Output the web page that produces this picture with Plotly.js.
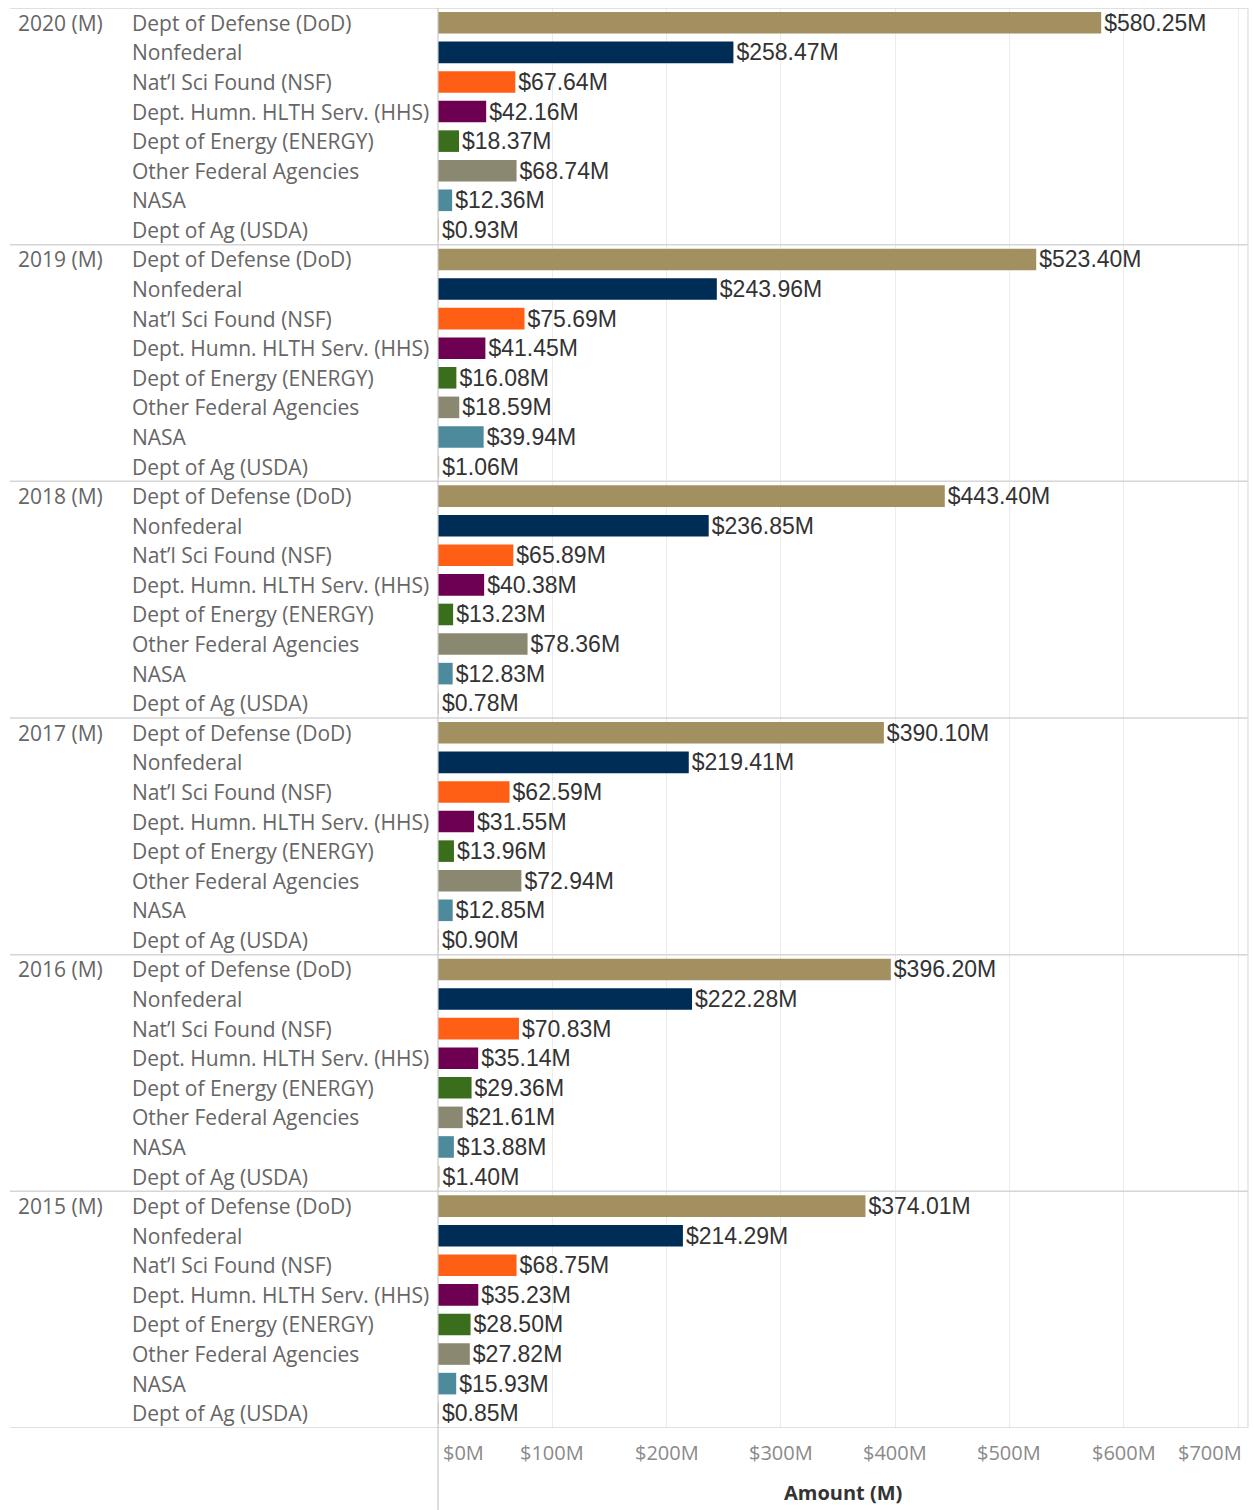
<!DOCTYPE html>
<html>
<head>
<meta charset="utf-8">
<script src="https://cdn.plot.ly/plotly-3.0.1.min.js"></script>
<style>html,body{margin:0;padding:0;background:#fff;}#chart{width:1254px;height:1510px;}</style>
</head>
<body>
<div id="chart"></div>
<script>
// ---- data ----
var years = ["2020", "2019", "2018", "2017", "2016", "2015"];
var categories = ["Dept of Defense (DoD)", "Nonfederal", "Nat\u2019l Sci Found (NSF)", "Dept. Humn. HLTH Serv. (HHS)", "Dept of Energy (ENERGY)", "Other Federal Agencies", "NASA", "Dept of Ag (USDA)"];
var v2020 = [580.25, 258.47, 67.64, 42.16, 18.37, 68.74, 12.36, 0.93];
var v2019 = [523.40, 243.96, 75.69, 41.45, 16.08, 18.59, 39.94, 1.06];
var v2018 = [443.40, 236.85, 65.89, 40.38, 13.23, 78.36, 12.83, 0.78];
var v2017 = [390.10, 219.41, 62.59, 31.55, 13.96, 72.94, 12.85, 0.90];
var v2016 = [396.20, 222.28, 70.83, 35.14, 29.36, 21.61, 13.88, 1.40];
var v2015 = [374.01, 214.29, 68.75, 35.23, 28.50, 27.82, 15.93, 0.85];
var tickValues = [0, 100, 200, 300, 400, 500, 600, 700];
var tickLabels = ["$0M", "$100M", "$200M", "$300M", "$400M", "$500M", "$600M", "$700M"];
var colors = ["#A39060", "#002D56", "#FF5F15", "#6E0052", "#3B6E1C", "#8A8870", "#4D8A9C", "#C8C0A0"];

var valuesByYear = [v2020, v2019, v2018, v2017, v2016, v2015];

// ---- build ----
function key(y, c) { return y + " | " + c; }
var allKeys = [];
years.forEach(function (y) { categories.forEach(function (c) { allKeys.push(key(y, c)); }); });

var traces = categories.map(function (c, ci) {
  var ys = [], xs = [], txt = [];
  years.forEach(function (y, yi) {
    ys.push(key(y, c));
    xs.push(valuesByYear[yi][ci]);
    txt.push("$" + valuesByYear[yi][ci].toFixed(2) + "M");
  });
  return {
    type: "bar", orientation: "h", name: c,
    x: xs, y: ys, text: txt,
    textposition: "outside", cliponaxis: false, constraintext: "none",
    textfont: { family: "Liberation Sans, Arial, sans-serif", size: 23, color: "#333333" },
    marker: { color: colors[ci], line: { width: 0 } },
    width: 0.73, hoverinfo: "skip", showlegend: false
  };
});

var W = 810, H = 1420, L = 438;
var labelFont = { family: "Open Sans, sans-serif", size: 21, color: "#666666" };
var annotations = [];
allKeys.forEach(function (k, i) {
  var parts = k.split(" | ");
  annotations.push({
    xref: "paper", yref: "y", x: (130 - L) / W, y: k, xanchor: "left", yanchor: "middle",
    text: parts[1], showarrow: false, font: labelFont
  });
  if (i % categories.length === 0) {
    annotations.push({
      xref: "paper", yref: "y", x: (16 - L) / W, y: k, xanchor: "left", yanchor: "middle",
      text: parts[0] + " (M)", showarrow: false, font: labelFont
    });
  }
});
tickValues.forEach(function (t, i) {
  var anchor = "center", shift = 0;
  if (i === 0) { anchor = "left"; shift = 3; }
  if (i === tickValues.length - 1) { anchor = "right"; shift = 6; }
  annotations.push({
    xref: "x", yref: "paper", x: t, y: -24 / H, xanchor: anchor, yanchor: "middle", xshift: shift,
    text: tickLabels[i], showarrow: false,
    font: { family: "Open Sans, sans-serif", size: 20, color: "#8a8a8a" }
  });
});
annotations.push({
  xref: "paper", yref: "paper", x: 0.5, y: -64 / H, xanchor: "center", yanchor: "middle",
  text: "<b>Amount (M)</b>", showarrow: false,
  font: { family: "Open Sans, sans-serif", size: 20, color: "#333333" }
});

var shapes = [];
for (var g = 0; g <= years.length; g++) {
  var yy = g * categories.length - 0.5;
  shapes.push({ type: "line", xref: "paper", yref: "y", x0: (10 - L) / W, x1: 1, y0: yy, y1: yy,
    line: { color: "#d6d6d6", width: 1.5 } });
}
shapes.push({ type: "line", xref: "paper", yref: "paper", x0: 0, x1: 0, y0: -82 / H, y1: 1,
  line: { color: "#c8c8c8", width: 1.2 } });
shapes.push({ type: "line", xref: "paper", yref: "paper", x0: 1, x1: 1, y0: 0, y1: 1,
  line: { color: "#dddddd", width: 1.2 } });

var layout = {
  width: 1254, height: 1510,
  margin: { l: 438, r: 6, t: 8, b: 82 },
  paper_bgcolor: "#ffffff", plot_bgcolor: "#ffffff",
  barmode: "overlay",
  xaxis: { range: [0, 708.7], tickvals: tickValues, showticklabels: false, showgrid: true,
    gridcolor: "#ececec", gridwidth: 1, zeroline: false, showline: false, fixedrange: true },
  yaxis: { type: "category", categoryorder: "array", categoryarray: allKeys,
    range: [allKeys.length - 0.5, -0.5], showticklabels: false, showgrid: false,
    zeroline: false, showline: false, fixedrange: true },
  annotations: annotations, shapes: shapes
};

Plotly.newPlot("chart", traces, layout, { displayModeBar: false, staticPlot: true });
</script>
</body>
</html>
